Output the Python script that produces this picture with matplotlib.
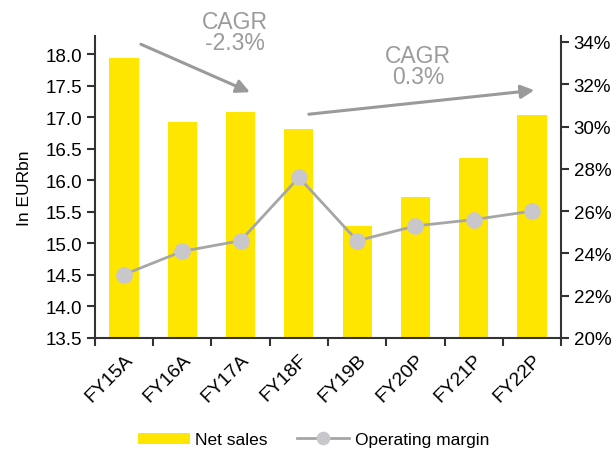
import matplotlib
matplotlib.use("Agg")
import matplotlib.pyplot as plt
from matplotlib.ticker import FuncFormatter

plt.rcParams['font.family'] = ['Liberation Sans', 'DejaVu Sans']

years = ["FY15A", "FY16A", "FY17A", "FY18F", "FY19B", "FY20P", "FY21P", "FY22P"]
net_sales = [17.94, 16.93, 17.09, 16.82, 15.28, 15.74, 16.35, 17.03]
op_margin = [23.0, 24.1, 24.6, 27.6, 24.6, 25.3, 25.6, 26.0]
cagr_labels = ["CAGR\n-2.3%", "CAGR\n0.3%"]

yellow = "#FFE600"
grey_line = "#A6A6A6"
grey_dot = "#C9C7CB"
grey_text = "#9B9B9B"
axis_col = "#333333"

fig = plt.figure(figsize=(6.16, 4.52), dpi=100)
ax = fig.add_axes([0.154, 0.25, 0.757, 0.668])
x = list(range(len(years)))

ax.bar(x, net_sales, width=0.5, color=yellow, label="Net sales", zorder=2)
ax.set_ylim(13.5, 18.29)
ax.set_yticks([13.5 + 0.5 * i for i in range(10)])
ax.yaxis.set_major_formatter(FuncFormatter(lambda v, p: f"{v:.1f}"))
ax.set_xlim(-0.5, len(years) - 0.5)
ax.set_xticks([i - 0.5 for i in range(len(years) + 1)])
ax.set_xticklabels([])
ax.set_xticks(x, minor=True)
ax.set_xticklabels(years, minor=True, rotation=45, ha="right",
                   rotation_mode="anchor", fontsize=14)
ax.tick_params(axis="x", which="minor", length=0, pad=9)
ax.tick_params(axis="x", which="major", length=6, width=1.5, color=axis_col)
ax.tick_params(axis="y", length=6, width=1.5, color=axis_col, labelsize=13.5, pad=3)
ax.set_ylabel("In EURbn", fontsize=12.5, labelpad=10)
for s in ["top", "right"]:
    ax.spines[s].set_visible(False)
for s in ["left", "bottom"]:
    ax.spines[s].set_color(axis_col)
    ax.spines[s].set_linewidth(1.5)

ax2 = ax.twinx()
ax2.plot(x, op_margin, color=grey_line, lw=2, marker="o", ms=11,
         mfc=grey_dot, mec=grey_dot, label="Operating margin", zorder=3)
ax2.set_ylim(20, 34.28)
ax2.set_yticks(range(20, 35, 2))
ax2.yaxis.set_major_formatter(FuncFormatter(lambda v, p: f"{v:.0f}%"))
ax2.tick_params(axis="y", length=6, width=1.5, color=axis_col, labelsize=13.5, pad=3)
for s in ["top", "left", "bottom"]:
    ax2.spines[s].set_visible(False)
ax2.spines["right"].set_color(axis_col)
ax2.spines["right"].set_linewidth(1.5)

# CAGR arrows and labels
arrow_style = dict(arrowstyle="-|>,head_length=0.8,head_width=0.4",
                   color="#9A9A9A", lw=2.2, shrinkA=0, shrinkB=0)
ax.annotate("", xy=(2.16, 17.40), xytext=(0.29, 18.16),
            arrowprops=arrow_style, annotation_clip=False)
ax.annotate("", xy=(7.04, 17.43), xytext=(3.17, 17.05),
            arrowprops=arrow_style, annotation_clip=False)
ax.text(1.90, 18.35, cagr_labels[0], ha="center", va="center", fontsize=16.5,
        color=grey_text, linespacing=0.9, clip_on=False)
ax.text(5.05, 17.81, cagr_labels[1], ha="center", va="center", fontsize=16.5,
        color=grey_text, linespacing=0.9, clip_on=False)

h1, l1 = ax.get_legend_handles_labels()
h2, l2 = ax2.get_legend_handles_labels()
fig.legend(h1 + h2, l1 + l2, loc="center", bbox_to_anchor=(0.509, 0.025),
           ncol=2, frameon=False, fontsize=12.5, handlelength=3.0, handleheight=0.6,
           markerscale=0.8, columnspacing=1.7, handletextpad=0.3)

fig.savefig("out.png", dpi=100)
